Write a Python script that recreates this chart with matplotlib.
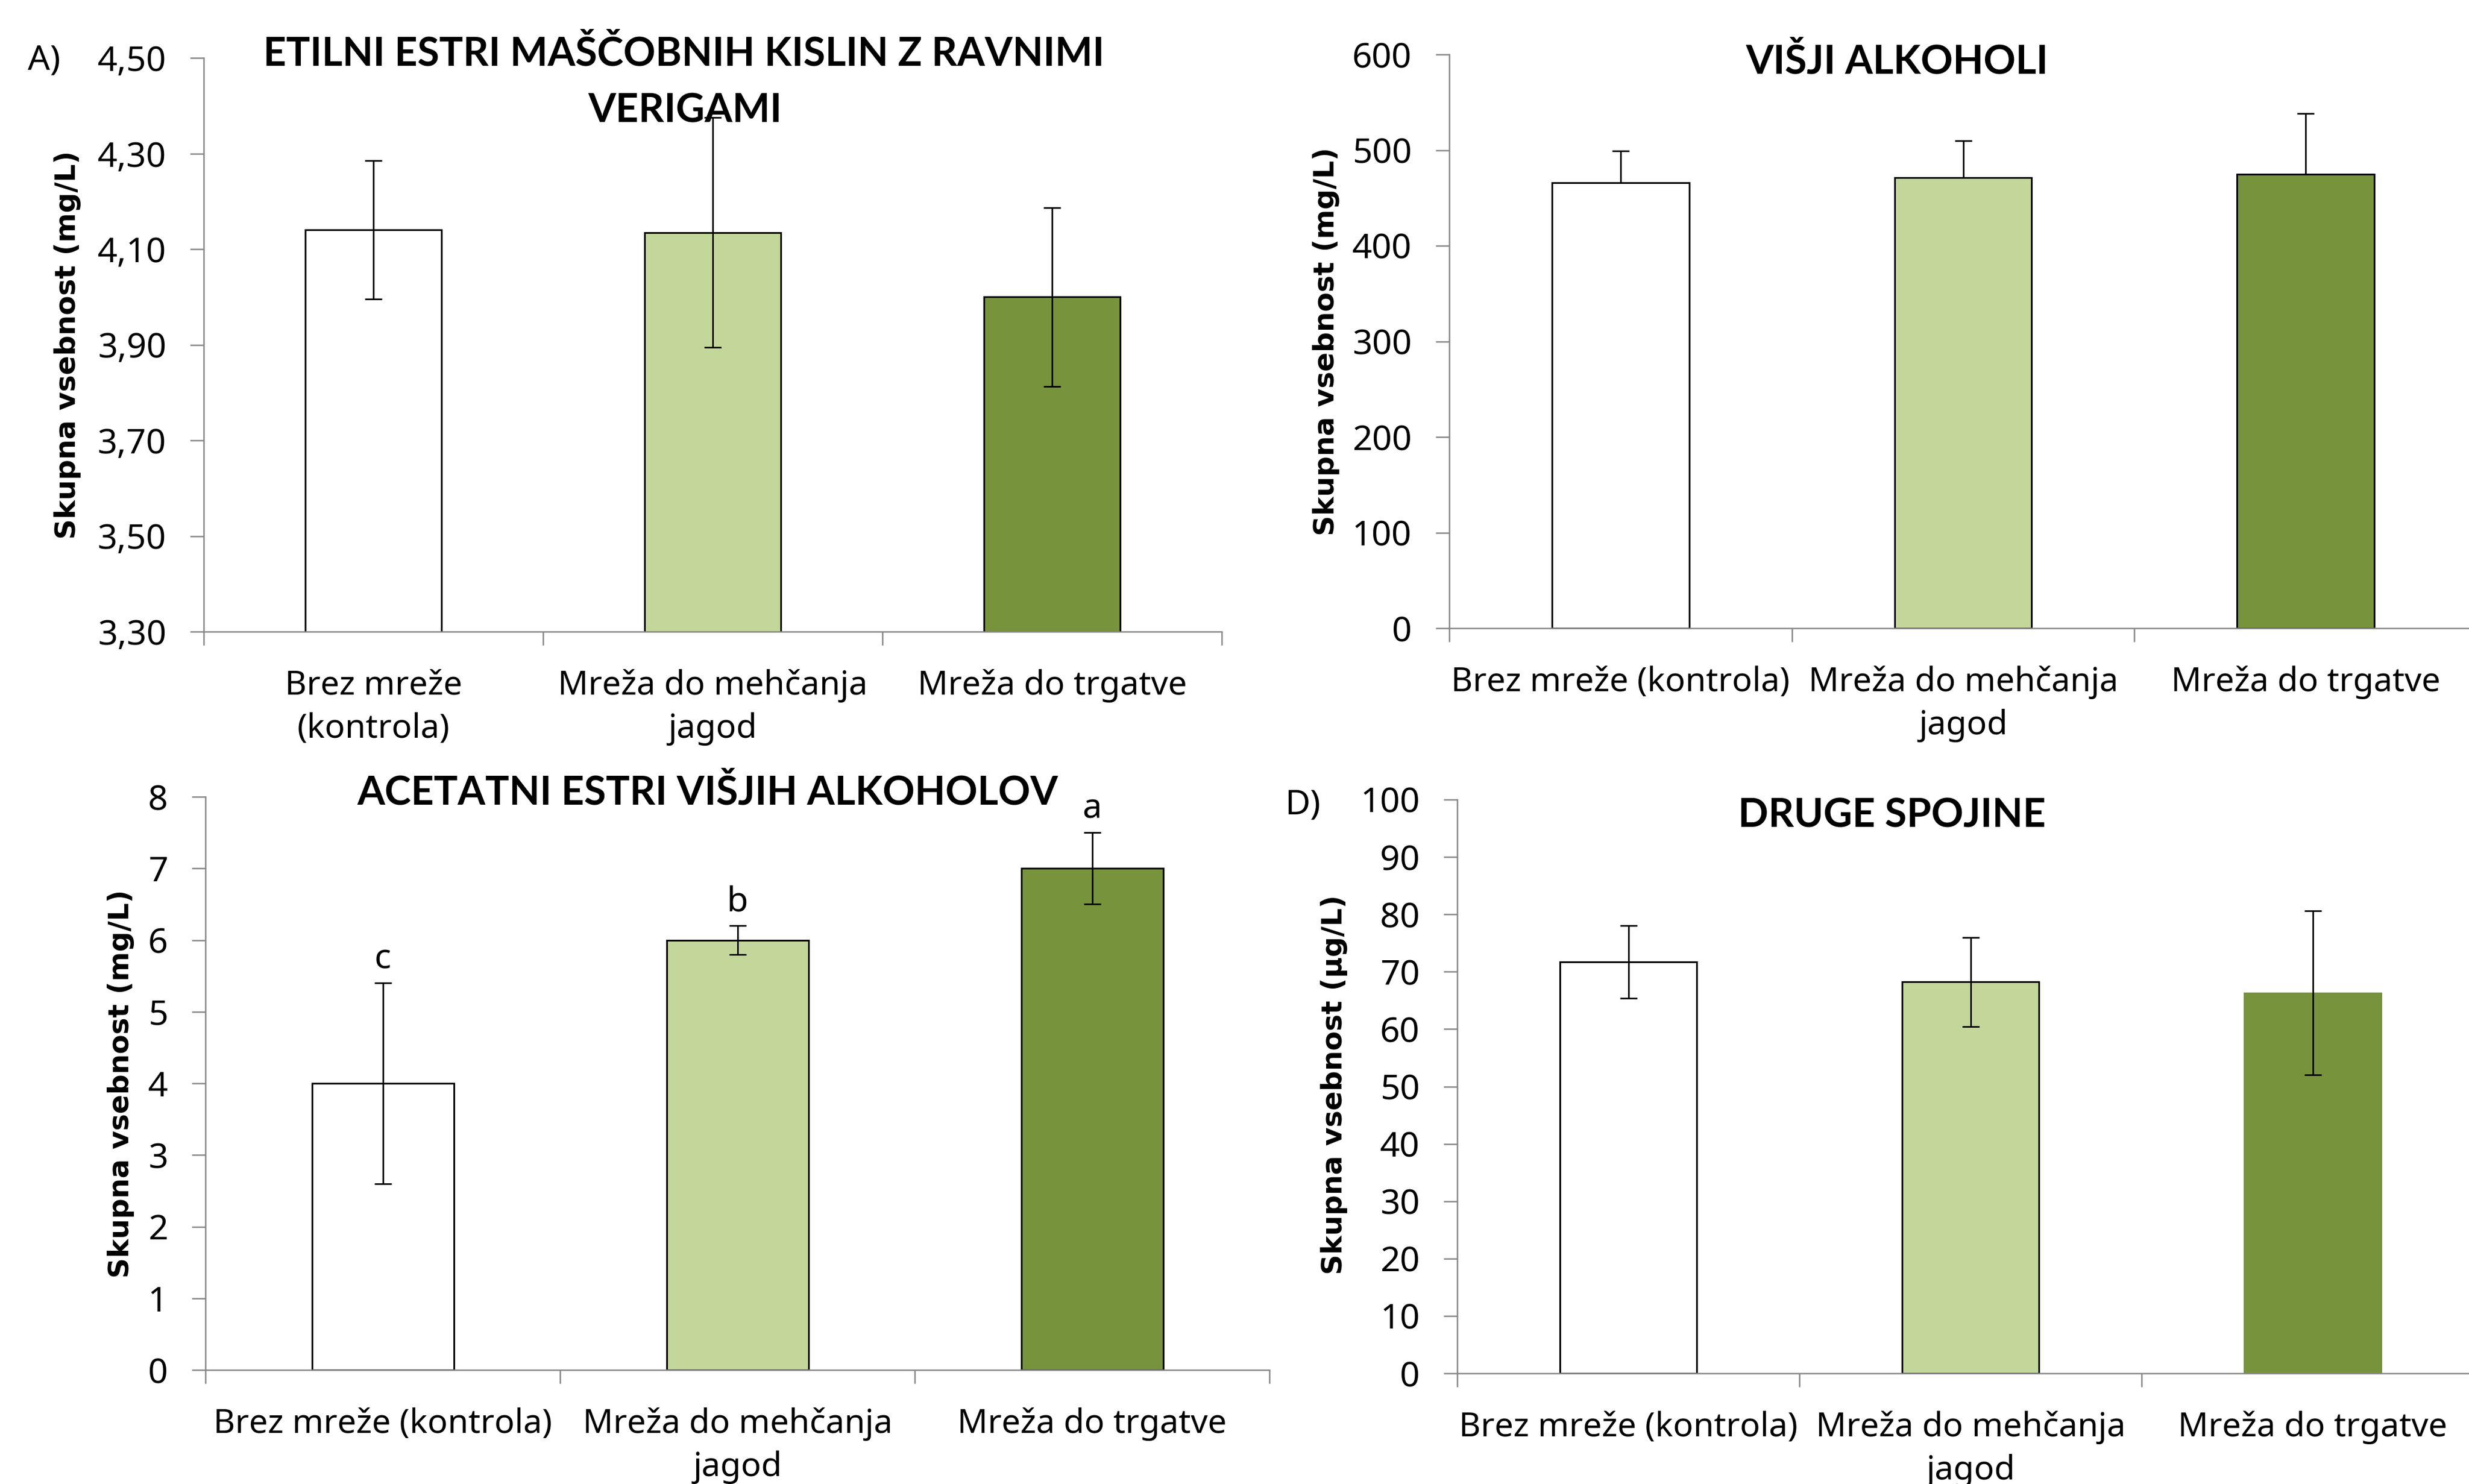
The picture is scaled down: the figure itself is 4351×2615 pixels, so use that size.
import matplotlib
matplotlib.use("Agg")
import matplotlib.pyplot as plt
from matplotlib import font_manager
import numpy as np

# ---- data -----------------------------------------------------------------
cats_a = ["Brez mreže\n(kontrola)", "Mreža do mehčanja\njagod", "Mreža do trgatve"]
cats_other = ["Brez mreže (kontrola)", "Mreža do mehčanja\njagod", "Mreža do trgatve"]

ethyl_esters = [4.14, 4.135, 4.00]
ethyl_esters_sd = [0.145, 0.24, 0.187]

higher_alcohols = [466, 471, 475]
higher_alcohols_sd = [33, 39, 63]

acetate_esters = [4.0, 6.0, 7.0]
acetate_esters_sd = [1.4, 0.2, 0.5]
acetate_letters = ["c", "b", "a"]

other_compounds = [71.7, 68.2, 66.3]
other_compounds_sd = [6.35, 7.8, 14.3]

yticks_a = [3.30, 3.50, 3.70, 3.90, 4.10, 4.30, 4.50]
yticklabels_a = ["3,30", "3,50", "3,70", "3,90", "4,10", "4,30", "4,50"]
yticks_b = [0, 100, 200, 300, 400, 500, 600]
yticks_c = [0, 1, 2, 3, 4, 5, 6, 7, 8]
yticks_d = [0, 10, 20, 30, 40, 50, 60, 70, 80, 90, 100]

titles = {
    "a": ["ETILNI ESTRI MAŠČOBNIH KISLIN Z RAVNIMI", "VERIGAMI"],
    "b": ["VIŠJI ALKOHOLI"],
    "c": ["ACETATNI ESTRI VIŠJIH ALKOHOLOV"],
    "d": ["DRUGE SPOJINE"],
}
ylabel_mg = "Skupna vsebnost (mg/L)"
ylabel_ug = "Skupna vsebnost (µg/L)"

# ---- style ----------------------------------------------------------------
W, H, DPI = 4351, 2615, 100
PX = 72.0 / DPI  # points per pixel
BAR_COLORS = ["#FFFFFF", "#C4D79B", "#77933C"]
AXIS_GREY = "#868686"
FONT = "Noto Sans"
TICK_FS = 44
CAT_FS = 42.5
TITLE_FS = 50.5
YLAB_FS = 36


def bold_family(candidates):
    """First candidate family that ships a real bold face."""
    for fam in candidates:
        for f in font_manager.fontManager.ttflist:
            if f.name == fam and f.weight in (600, 700, 800, "bold", "semibold"):
                return fam
    return "DejaVu Sans"


TITLE_FONT = bold_family(["Lato", "Liberation Sans", "Roboto", "Open Sans"])

fig = plt.figure(figsize=(W / DPI, H / DPI), dpi=DPI)
fig.patch.set_facecolor("white")


def fx(px):
    return px / W


def fy(py):
    return 1 - py / H


def panel(box, values, errs, yticks, ylabels, cats, lower_err=True, edge_last=True):
    left, top, right, bottom = box
    ax = fig.add_axes([fx(left), fy(bottom), (right - left) / W, (bottom - top) / H])
    x = np.arange(len(values))
    edges = ["black", "black", "black" if edge_last else BAR_COLORS[2]]
    ax.bar(x, values, width=0.4, color=BAR_COLORS, edgecolor=edges,
           linewidth=2.2, zorder=2)
    lo = errs if lower_err else [0] * len(errs)
    ax.errorbar(x, values, yerr=[lo, errs], fmt="none", ecolor="black",
                elinewidth=2.0, capsize=10.5, capthick=2.0, zorder=3)
    ax.set_xlim(-0.5, 2.5)
    ax.set_ylim(yticks[0], yticks[-1])
    for s in ("top", "right"):
        ax.spines[s].set_visible(False)
    for s in ("left", "bottom"):
        ax.spines[s].set_color(AXIS_GREY)
        ax.spines[s].set_linewidth(1.8)
        ax.spines[s].set_zorder(4)
    ax.set_yticks(yticks)
    ax.set_yticklabels(ylabels, fontfamily=FONT, fontsize=TICK_FS)
    ax.tick_params(axis="y", direction="out", length=24 * PX, width=1.8,
                   color=AXIS_GREY, pad=42 * PX)
    # category boundaries get the tick marks, centres get the labels
    ax.set_xticks([-0.5, 0.5, 1.5, 2.5])
    ax.set_xticklabels([])
    ax.set_xticks(x, minor=True)
    ax.set_xticklabels(cats, minor=True, fontfamily=FONT, fontsize=CAT_FS,
                       linespacing=1.38)
    ax.tick_params(axis="x", which="major", direction="out", length=24 * PX,
                   width=1.8, color=AXIS_GREY)
    ax.tick_params(axis="x", which="minor", length=0, pad=66 * PX)
    ax.set_facecolor("none")
    return ax


ax_a = panel((359, 102, 2153, 1113), ethyl_esters, ethyl_esters_sd,
             yticks_a, yticklabels_a, cats_a)
ax_b = panel((2554, 96, 4365, 1107), higher_alcohols, higher_alcohols_sd,
             yticks_b, [str(v) for v in yticks_b], cats_other, lower_err=False)
ax_c = panel((362, 1404, 2237, 2414), acetate_esters, acetate_esters_sd,
             yticks_c, [str(v) for v in yticks_c], cats_other)
ax_d = panel((2568, 1409, 4377, 2420), other_compounds, other_compounds_sd,
             yticks_d, [str(v) for v in yticks_d], cats_other, edge_last=False)

# significance letters above the acetate ester bars
for i, (v, e, letter) in enumerate(zip(acetate_esters, acetate_esters_sd, acetate_letters)):
    ax_c.annotate(letter, (i, v + e), xytext=(0, 26 * PX), textcoords="offset points",
                  ha="center", va="baseline", fontfamily=FONT, fontsize=TICK_FS)

# titles
title_font = dict(fontfamily=TITLE_FONT, fontweight="bold", fontsize=TITLE_FS,
                  ha="center", va="baseline")
fig.text(fx(1205), fy(116), titles["a"][0], **title_font)
fig.text(fx(1207), fy(215), titles["a"][1], **title_font)
fig.text(fx(3343), fy(130), titles["b"][0], **title_font)
fig.text(fx(1247), fy(1417), titles["c"][0], **title_font)
fig.text(fx(3334), fy(1458), titles["d"][0], **title_font)

# y-axis labels
ylab_font = dict(fontfamily="DejaVu Sans", fontweight="bold", fontsize=YLAB_FS,
                 rotation=90, ha="center", va="center")
fig.text(fx(119), fy(608), ylabel_mg, **ylab_font)
fig.text(fx(2337), fy(602), ylabel_mg, **ylab_font)
fig.text(fx(213), fy(1910), ylabel_mg, **ylab_font)
fig.text(fx(2351), fy(1912), ylabel_ug, **ylab_font)

# panel letters
fig.text(fx(78), fy(122), "A)", fontfamily=FONT, fontsize=TICK_FS, ha="center", va="baseline")
fig.text(fx(2296), fy(1434), "D)", fontfamily=FONT, fontsize=TICK_FS, ha="center", va="baseline")

fig.savefig("out.png", dpi=DPI, facecolor="white")
